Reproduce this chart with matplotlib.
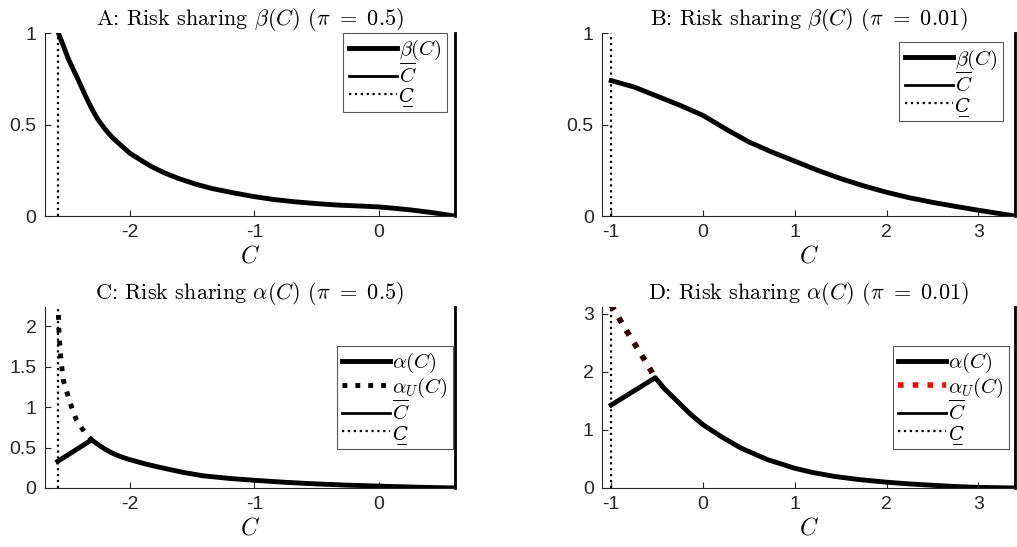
import numpy as np
import matplotlib
matplotlib.use("Agg")
import matplotlib.pyplot as plt

plt.rcParams['font.family'] = ['Liberation Sans', 'DejaVu Sans']
plt.rcParams['mathtext.fontset'] = 'cm'
plt.rcParams['axes.unicode_minus'] = False

# ---- data ----
# panel A: beta(C), pi = 0.5
c_low_a = -2.58
c_high_a = 0.61
a_x = [-2.575, -2.535, -2.496, -2.455, -2.415, -2.375, -2.335, -2.295, -2.255, -2.2, -2.147,
       -2.07, -2.0, -1.9, -1.826, -1.72, -1.612, -1.48, -1.344, -1.17,
       -1.0, -0.84, -0.675, -0.5, -0.327, -0.16, 0.0, 0.13, 0.263, 0.45, 0.61]
a_beta = [1.00, 0.93, 0.86, 0.80, 0.743, 0.683, 0.625, 0.572, 0.525, 0.475, 0.433,
          0.385, 0.343, 0.30, 0.27, 0.235, 0.206, 0.176, 0.151, 0.127,
          0.106, 0.09, 0.078, 0.068, 0.06, 0.055, 0.05, 0.042, 0.033, 0.017, 0.0]

# panel B: beta(C), pi = 0.01
c_low_b = -1.0
c_high_b = 3.4
b_x = [-1.0, -0.75, -0.5, -0.25, 0.0, 0.25, 0.5, 0.75, 1.0, 1.25, 1.5, 1.75, 2.0, 2.25, 2.5, 2.75, 3.0, 3.2, 3.4]
b_beta = [0.74, 0.705, 0.655, 0.605, 0.55, 0.475, 0.405, 0.35, 0.30, 0.25, 0.205, 0.165, 0.13, 0.10, 0.075, 0.053, 0.032, 0.016, 0.0]

# panel C: alpha(C), alpha_U(C), pi = 0.5
c_x = [-2.58, -2.308, -2.25, -2.2, -2.147, -2.08, -2.0, -1.87, -1.745, -1.58, -1.41, -1.2,
       -1.0, -0.75, -0.5, -0.25, 0.0, 0.3, 0.61]
c_alpha = [0.33, 0.595, 0.53, 0.48, 0.435, 0.39, 0.35, 0.295, 0.25, 0.195, 0.15, 0.118,
           0.095, 0.07, 0.05, 0.035, 0.023, 0.01, 0.0]
c_xu = [-2.578, -2.57, -2.554, -2.535, -2.48, -2.43, -2.36, -2.308]
c_alpha_u = [2.30, 1.91, 1.58, 1.33, 1.05, 0.84, 0.68, 0.595]

# panel D: alpha(C), alpha_U(C), pi = 0.01
d_x = [-1.0, -0.52, -0.42, -0.316, -0.22, -0.135, 0.0, 0.193, 0.41, 0.70, 1.0, 1.2, 1.43, 1.7, 2.0,
       2.25, 2.52, 2.75, 3.0, 3.4]
d_alpha = [1.43, 1.90, 1.71, 1.55, 1.40, 1.27, 1.09, 0.89, 0.69, 0.49, 0.34, 0.265, 0.20, 0.145, 0.10,
           0.07, 0.045, 0.025, 0.01, 0.0]
d_xu = [-1.0, -0.83, -0.68, -0.52]
d_alpha_u = [3.15, 2.70, 2.32, 1.90]

titles = [r"A: Risk sharing $\beta(C)$ $(\pi\ =\ 0.5)$",
          r"B: Risk sharing $\beta(C)$ $(\pi\ =\ 0.01)$",
          r"C: Risk sharing $\alpha(C)$ $(\pi\ =\ 0.5)$",
          r"D: Risk sharing $\alpha(C)$ $(\pi\ =\ 0.01)$"]

LOW_LABEL = "C\u0332"   # underlined C (mathtext has no \underline)

fig = plt.figure(figsize=(10.17, 5.47), dpi=100)
ax_a = fig.add_axes([0.0442, 0.605, 0.403, 0.3346])
ax_b = fig.add_axes([0.592, 0.605, 0.406, 0.3346])
ax_c = fig.add_axes([0.0442, 0.1079, 0.403, 0.331])
ax_d = fig.add_axes([0.592, 0.1079, 0.406, 0.331])

grey = '0.15'


def style(ax, title, xlim, ylim, xticks, yticks, yticklabels):
    ax.set_xlim(*xlim)
    ax.set_ylim(*ylim)
    ax.set_xticks(xticks)
    ax.set_yticks(yticks)
    ax.set_yticklabels(yticklabels)
    ax.spines['top'].set_visible(False)
    ax.spines['right'].set_visible(False)
    for s in ['left', 'bottom']:
        ax.spines[s].set_color(grey)
        ax.spines[s].set_linewidth(0.8)
    ax.tick_params(direction='in', length=4, width=0.8, colors=grey, labelsize=14,
                   labelcolor=grey, pad=6)
    ax.set_title(title, fontsize=16, family='cmr10', pad=4)
    ax.set_xlabel(r"$C$", fontsize=17, labelpad=3)


def bounds(ax, lo, hi):
    # vertical lines at the lower and upper bound of C
    ax.axvline(hi, color='k', lw=2, clip_on=False, label=r"$\overline{C}$")
    ax.axvline(lo, color='k', lw=1.6, ls=':', label=LOW_LABEL)


def legend(ax, loc, anchor):
    leg = ax.legend(loc=loc, bbox_to_anchor=anchor, fontsize=15, handlelength=2.3,
                    handletextpad=0.1, labelspacing=0.0, borderpad=0.25,
                    borderaxespad=0, fancybox=False, framealpha=1)
    leg.get_frame().set_edgecolor('0.35')
    leg.get_frame().set_linewidth(0.8)
    for t in leg.get_texts():
        if t.get_text() == LOW_LABEL:
            t.set_family('DejaVu Serif')
            t.set_style('italic')
            t.set_fontsize(14)


# A
ax_a.plot(a_x, a_beta, color='k', lw=3.5, label=r"$\beta(C)$", solid_joinstyle='round')
bounds(ax_a, c_low_a, c_high_a)
style(ax_a, titles[0], (-2.683, 0.61), (0, 1), [-2, -1, 0], [0, 0.5, 1], ['0', '0.5', '1'])
legend(ax_a, 'upper right', (0.98, 1.0))

# B
ax_b.plot(b_x, b_beta, color='k', lw=3.5, label=r"$\beta(C)$", solid_joinstyle='round')
bounds(ax_b, c_low_b, c_high_b)
style(ax_b, titles[1], (-1.1, 3.4), (0, 1), [-1, 0, 1, 2, 3], [0, 0.5, 1], ['0', '0.5', '1'])
legend(ax_b, 'upper right', (0.97, 0.95))

# C
ax_c.plot(c_x, c_alpha, color='k', lw=3.5, label=r"$\alpha(C)$", zorder=3, solid_joinstyle='round')
ax_c.plot(c_xu, c_alpha_u, color='k', lw=3.5, ls=':', label=r"$\alpha_U(C)$")
bounds(ax_c, c_low_a, c_high_a)
style(ax_c, titles[2], (-2.683, 0.61), (0, 2.24), [-2, -1, 0], [0, 0.5, 1, 1.5, 2],
      ['0', '0.5', '1', '1.5', '2'])
legend(ax_c, 'center right', (0.995, 0.5))

# D
ax_d.plot(d_x, d_alpha, color='k', lw=3.5, label=r"$\alpha(C)$", zorder=3, solid_joinstyle='round')
ax_d.plot(d_xu, d_alpha_u, color='red', lw=4, ls=':', label=r"$\alpha_U(C)$")
ax_d.plot(d_xu, d_alpha_u, color='k', lw=4, ls=':', alpha=0.85)
bounds(ax_d, c_low_b, c_high_b)
style(ax_d, titles[3], (-1.1, 3.4), (0, 3.12), [-1, 0, 1, 2, 3], [0, 1, 2, 3],
      ['0', '1', '2', '3'])
legend(ax_d, 'center right', (0.985, 0.5))

fig.savefig("out.png", dpi=100)
